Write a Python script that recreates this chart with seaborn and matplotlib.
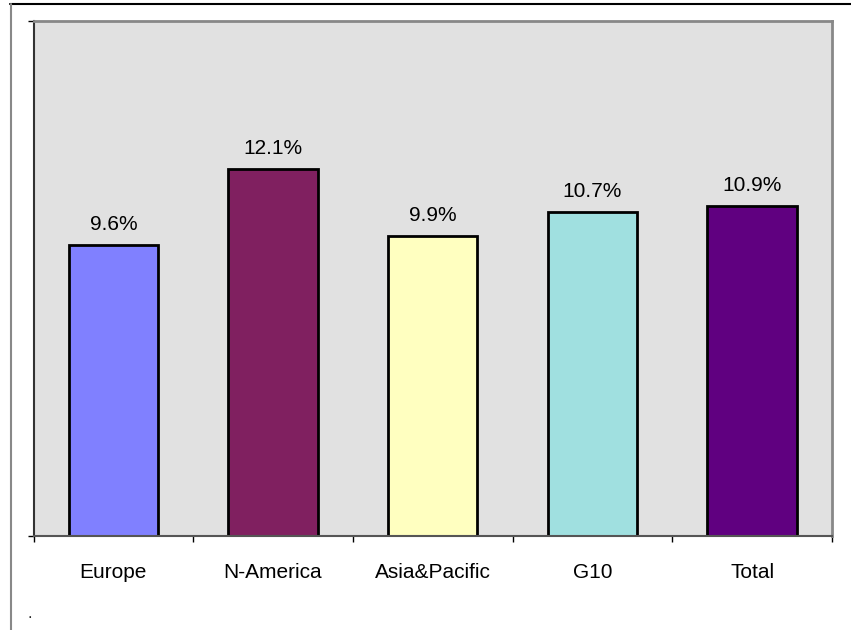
import matplotlib
matplotlib.use("Agg")
import matplotlib.pyplot as plt
import seaborn as sns
import pandas as pd
from matplotlib.lines import Line2D

# data
regions = ["Europe", "N-America", "Asia&Pacific", "G10", "Total"]
growth = [0.096, 0.121, 0.099, 0.107, 0.109]
bar_colors = ["#8080FF", "#802060", "#FFFFC0", "#A0E0E0", "#600080"]
y_max = 0.17

df = pd.DataFrame({"region": regions, "growth": growth})

sns.set_theme(style="white")
plt.rcParams["font.family"] = ["Liberation Sans", "DejaVu Sans"]

fig = plt.figure(figsize=(8.51, 6.3), dpi=100)
ax = fig.add_axes([33.5 / 851, 1 - 536 / 630, (832 - 33.5) / 851, (536 - 21) / 630])
ax.set_facecolor("#E1E1E1")

sns.barplot(data=df, x="region", y="growth", hue="region", palette=bar_colors,
            width=0.56, edgecolor="black", linewidth=2.0, saturation=1,
            legend=False, ax=ax)

for cont in ax.containers:
    ax.bar_label(cont, labels=["{:.1%}".format(v) for v in cont.datavalues],
                 padding=8, fontsize=15, color="black")

ax.set_xlim(-0.5, len(regions) - 0.5)
ax.set_ylim(0, y_max)
ax.set_xlabel("")
ax.set_ylabel("")

# category labels between boundary ticks
ax.set_xticks(range(len(regions)))
ax.set_xticklabels(regions, fontsize=15, color="black")
ax.tick_params(axis="x", which="major", length=0, pad=19.5)
ax.set_xticks([i - 0.5 for i in range(len(regions) + 1)], minor=True)
ax.tick_params(axis="x", which="minor", length=4.5, width=1, color="black",
               direction="out", bottom=True)

ax.set_yticks([0, y_max])
ax.set_yticklabels([])
ax.tick_params(axis="y", length=4.5, width=1, color="black", direction="out", left=True)

for side in ["top", "right"]:
    ax.spines[side].set_color("#888888")
    ax.spines[side].set_linewidth(2)
ax.spines["left"].set_color("#333333")
ax.spines["left"].set_linewidth(1.5)
ax.spines["bottom"].set_color("#555555")
ax.spines["bottom"].set_linewidth(1.5)

# outer chart frame
fig.add_artist(Line2D([10 / 851, 1], [1 - 4 / 630, 1 - 4 / 630], color="black", lw=1.5))
fig.add_artist(Line2D([11 / 851, 11 / 851], [0, 1 - 4 / 630], color="#888888", lw=1.5))
fig.text(30 / 851, 1 - 618 / 630, ".", fontsize=12, ha="center", va="baseline")

fig.savefig("out.png", dpi=100)
